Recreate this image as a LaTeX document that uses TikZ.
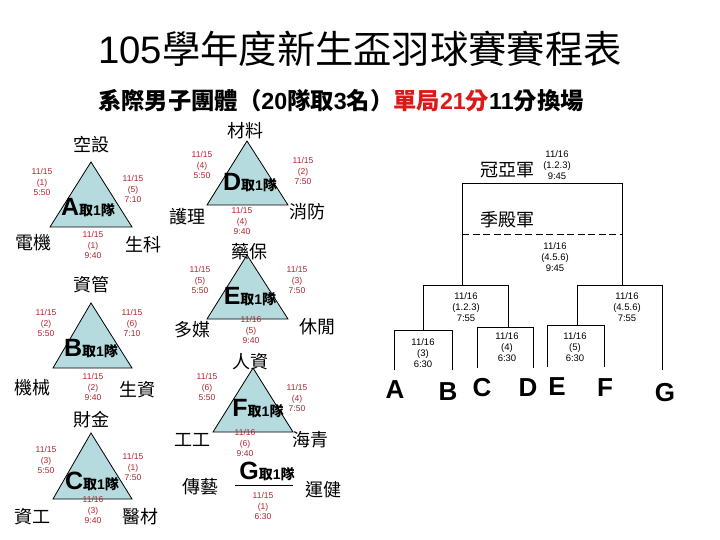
\documentclass[tikz,border=0pt]{standalone}
\usepackage{fontspec}
\setmainfont{Liberation Sans}
\newfontfamily\cjk{Noto Sans CJK TC}
\definecolor{datered}{RGB}{175,35,45}
\definecolor{subred}{RGB}{220,25,25}
\definecolor{trifill}{RGB}{182,219,222}
\newcommand\teamname[1]{{\bfseries\fontsize{25}{25}\selectfont #1}{\cjk\bfseries\fontsize{14}{14}\selectfont 取{\rmfamily 1}隊}}
\tikzset{
 lbl/.style={inner sep=0pt, font=\cjk\fontsize{18}{18}\selectfont},
 dl/.style={inner sep=0pt, align=center, text=datered, font=\fontsize{8.5}{10.5}\selectfont},
 bdl/.style={inner sep=0pt, align=center, font=\fontsize{9.5}{11}\selectfont},
 tri/.style={draw=black, line width=0.8pt, fill=trifill},
 teamlbl/.style={inner sep=0pt},
 bline/.style={line width=0.9pt},
 letter/.style={inner sep=0pt, font=\bfseries\fontsize{26}{26}\selectfont},
}
\begin{document}
\begin{tikzpicture}[x=1pt,y=-1pt]
\useasboundingbox[fill=white] (0,0) rectangle (720,540);
% titles
\node[inner sep=0pt] (title) at (360,49) {\fontsize{38.3}{40}\selectfont 105{\cjk 學年度新生盃羽球賽賽程表}};
\node[inner sep=0pt] (subtitle) at (341,101) {\cjk\bfseries\fontsize{23.3}{25}\selectfont 系際男子團體（{\rmfamily 20}隊取{\rmfamily 3}名）\textcolor{subred}{單局{\rmfamily 21}分}{\rmfamily 11}分換場};

% ---------- group A
\coordinate (At) at (91,162); \coordinate (Al) at (50,227); \coordinate (Ar) at (132,227);
\draw[tri] (At) -- (Al) -- (Ar) -- cycle;
\node[lbl] (a1) at (91,145) {空設};
\node[lbl] (a2) at (33,243) {電機};
\node[lbl] (a3) at (143,245) {生科};
\node[teamlbl] (ta) at (88,208) {\teamname{A}};
\node[dl] (da1) at (42,182) {11/15\\(1)\\5:50};
\node[dl] (da2) at (133,189) {11/15\\(5)\\7:10};
\node[dl] (da3) at (93,245) {11/15\\(1)\\9:40};

% ---------- group B
\coordinate (Bt) at (91,303); \coordinate (Bl) at (53,368); \coordinate (Br) at (132,368);
\draw[tri] (Bt) -- (Bl) -- (Br) -- cycle;
\node[lbl] (b1) at (91,285) {資管};
\node[lbl] (b2) at (32,388) {機械};
\node[lbl] (b3) at (137,390) {生資};
\node[teamlbl] (tb) at (91,349) {\teamname{B}};
\node[dl] (db1) at (46,323) {11/15\\(2)\\5:50};
\node[dl] (db2) at (132,323) {11/15\\(6)\\7:10};
\node[dl] (db3) at (93,387) {11/15\\(2)\\9:40};

% ---------- group C
\coordinate (Ct) at (91,433); \coordinate (Cl) at (53,499); \coordinate (Cr) at (132,499);
\draw[tri] (Ct) -- (Cl) -- (Cr) -- cycle;
\node[lbl] (c1) at (91,420) {財金};
\node[lbl] (c2) at (32,517) {資工};
\node[lbl] (c3) at (140,517) {醫材};
\node[teamlbl] (tc) at (92,481) {\teamname{C}};
\node[dl] (dc1) at (46,460) {11/15\\(3)\\5:50};
\node[dl] (dc2) at (133,467) {11/15\\(1)\\7:50};
\node[dl] (dc3) at (93,510) {11/16\\(3)\\9:40};

% ---------- group D
\coordinate (Dt) at (247,141); \coordinate (Dl) at (207,205); \coordinate (Dr) at (288,205);
\draw[tri] (Dt) -- (Dl) -- (Dr) -- cycle;
\node[lbl] (d1) at (245,131) {材料};
\node[lbl] (d2) at (187,217) {護理};
\node[lbl] (d3) at (307,212) {消防};
\node[teamlbl] (td) at (250,183) {\teamname{D}};
\node[dl] (dd1) at (202,165) {11/15\\(4)\\5:50};
\node[dl] (dd2) at (303,171) {11/15\\(2)\\7:50};
\node[dl] (dd3) at (242,221) {11/15\\(4)\\9:40};

% ---------- group E
\coordinate (Et) at (247,255); \coordinate (El) at (207,319); \coordinate (Er) at (288,319);
\draw[tri] (Et) -- (El) -- (Er) -- cycle;
\node[lbl] (e1) at (249,252) {藥保};
\node[lbl] (e2) at (192,330) {多媒};
\node[lbl] (e3) at (317,327) {休閒};
\node[teamlbl] (te) at (250,297) {\teamname{E}};
\node[dl] (de1) at (200,280) {11/15\\(5)\\5:50};
\node[dl] (de2) at (297,280) {11/15\\(3)\\7:50};
\node[dl] (de3) at (251,330) {11/16\\(5)\\9:40};

% ---------- group F
\coordinate (Ft) at (253,368); \coordinate (Fl) at (213,432); \coordinate (Fr) at (293,432);
\draw[tri] (Ft) -- (Fl) -- (Fr) -- cycle;
\node[lbl] (f1) at (250,362) {人資};
\node[lbl] (f2) at (192,440) {工工};
\node[lbl] (f3) at (310,440) {海青};
\node[teamlbl] (tf) at (258,409) {\teamname{F}};
\node[dl] (df1) at (207,387) {11/15\\(6)\\5:50};
\node[dl] (df2) at (297,398) {11/15\\(4)\\7:50};
\node[dl] (df3) at (245,443) {11/16\\(6)\\9:40};

% ---------- group G
\coordinate (Gl) at (235,485); \coordinate (Gr) at (293,485);
\draw[line width=0.8pt] (Gl) -- (Gr);
\node[teamlbl] (tg) at (267,471) {\teamname{G}};
\node[lbl] (g1) at (200,487) {傳藝};
\node[lbl] (g2) at (323,490) {運健};
\node[dl] (dg1) at (263,506) {11/15\\(1)\\6:30};

% ---------- bracket
\node[lbl] (champ) at (507,170) {冠亞軍};
\node[bdl] (dch) at (557,165) {11/16\\(1.2.3)\\9:45};
\node[lbl] (third) at (507,220) {季殿軍};
\node[bdl] (dth) at (555,257) {11/16\\(4.5.6)\\9:45};

\coordinate (fL) at (462,183); \coordinate (fR) at (622,183);
\coordinate (fLb) at (462,285); \coordinate (fRb) at (622,285);
\coordinate (dL) at (462,234); \coordinate (dR) at (622,234);
\draw[bline] (fLb) -- (fL) -- (fR) -- (fRb);
\draw[bline, dash pattern=on 7pt off 3.5pt] (dL) -- (dR);

% left semi
\coordinate (sl1) at (423,285); \coordinate (sl2) at (508,285);
\coordinate (sl1b) at (423,330); \coordinate (sl2b) at (508,327);
\draw[bline] (sl1b) -- (sl1) -- (sl2) -- (sl2b);
% right semi
\coordinate (sr1) at (577,285); \coordinate (sr2) at (662,285);
\coordinate (sr1b) at (577,325); \coordinate (sr2b) at (662,370);
\draw[bline] (sr1b) -- (sr1) -- (sr2) -- (sr2b);
% AB
\coordinate (ab1) at (394,330); \coordinate (ab2) at (452,330);
\coordinate (ab1b) at (394,370); \coordinate (ab2b) at (452,370);
\draw[bline] (ab1b) -- (ab1) -- (ab2) -- (ab2b);
% CD
\coordinate (cd1) at (477,327); \coordinate (cd2) at (533,327);
\coordinate (cd1b) at (477,368); \coordinate (cd2b) at (533,368);
\draw[bline] (cd1b) -- (cd1) -- (cd2) -- (cd2b);
% EF
\coordinate (ef1) at (547,325); \coordinate (ef2) at (604,325);
\coordinate (ef1b) at (547,367); \coordinate (ef2b) at (604,367);
\draw[bline] (ef1b) -- (ef1) -- (ef2) -- (ef2b);

\node[bdl] (dsl) at (466,307) {11/16\\(1.2.3)\\7:55};
\node[bdl] (dsr) at (627,307) {11/16\\(4.5.6)\\7:55};
\node[bdl] (dab) at (423,353) {11/16\\(3)\\6:30};
\node[bdl] (dcd) at (507,347) {11/16\\(4)\\6:30};
\node[bdl] (def) at (575,347) {11/16\\(5)\\6:30};

\node[letter] (LA) at (395,390) {A};
\node[letter] (LB) at (448,392) {B};
\node[letter] (LC) at (482,388) {C};
\node[letter] (LD) at (528,388) {D};
\node[letter] (LE) at (557,387) {E};
\node[letter] (LF) at (605,388) {F};
\node[letter] (LG) at (665,393) {G};
\end{tikzpicture}
\end{document}
